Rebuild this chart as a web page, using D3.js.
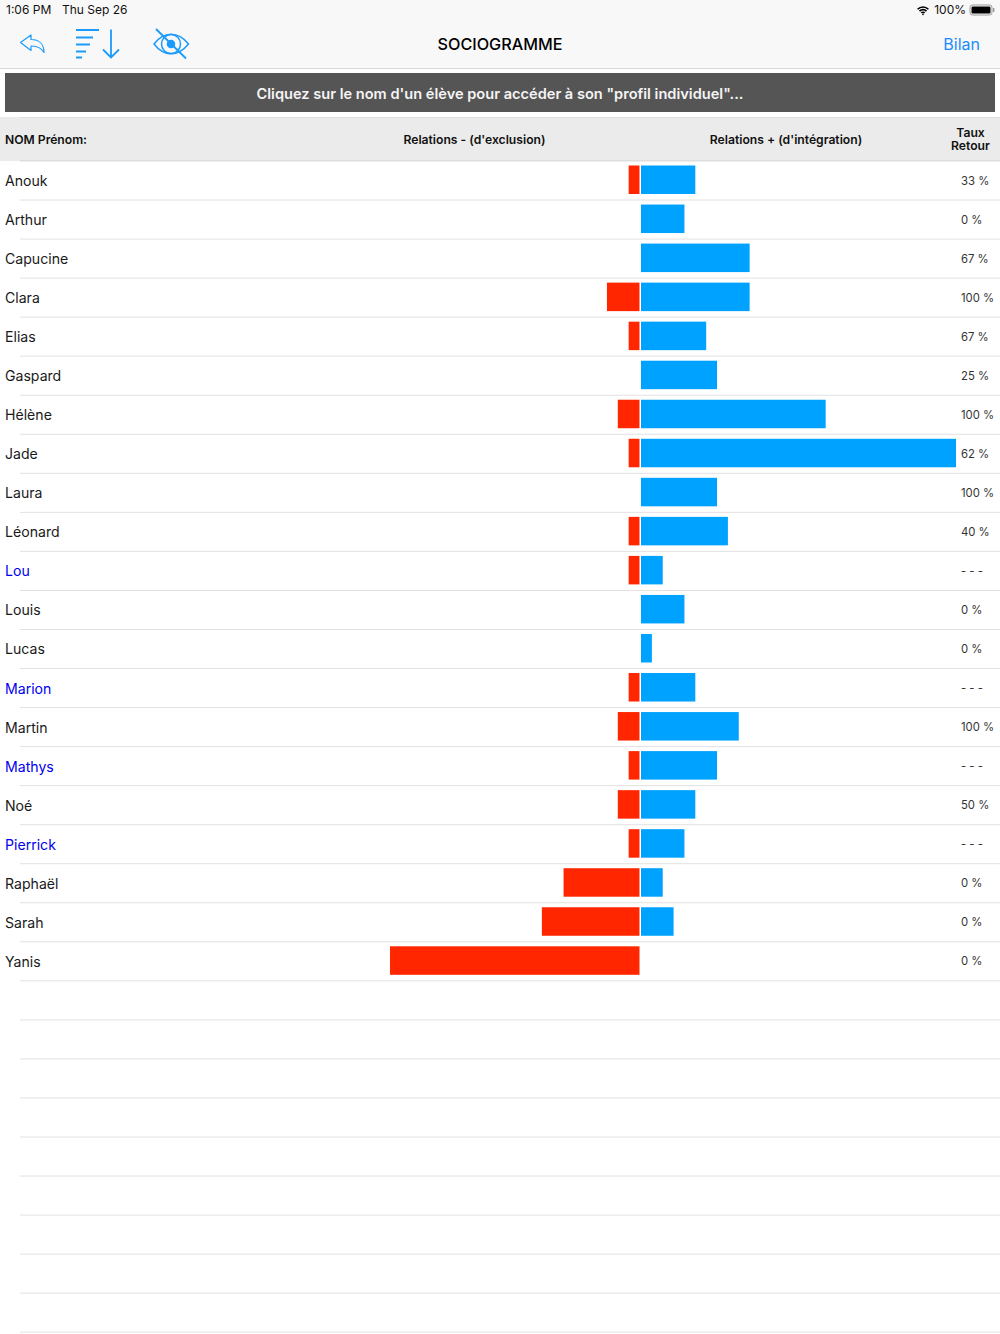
<!DOCTYPE html>
<html>
<head>
<meta charset="utf-8">
<script src="https://cdn.jsdelivr.net/npm/d3@7"></script>
<style>
  html, body { margin: 0; padding: 0; background: #fff; }
  svg { display: block; font-family: Inter, "Liberation Sans", sans-serif; }
</style>
</head>
<body>
<div id="chart"></div>
<script>
// values, in relation counts
var names = ["Anouk", "Arthur", "Capucine", "Clara", "Elias", "Gaspard", "Hélène", "Jade", "Laura", "Léonard", "Lou", "Louis", "Lucas", "Marion", "Martin", "Mathys", "Noé", "Pierrick", "Raphaël", "Sarah", "Yanis"];
var exclusion = [1, 0, 0, 3, 1, 0, 2, 1, 0, 1, 1, 0, 0, 1, 2, 1, 2, 1, 7, 9, 23];
var integration = [5, 4, 10, 10, 6, 7, 17, 29, 7, 8, 2, 4, 1, 5, 9, 7, 5, 4, 2, 3, 0];
var retour = ["33 %", "0 %", "67 %", "100 %", "67 %", "25 %", "100 %", "62 %", "100 %", "40 %", "- - -", "0 %", "0 %", "- - -", "100 %", "- - -", "50 %", "- - -", "0 %", "0 %", "0 %"];
var noReply = ["Lou", "Marion", "Mathys", "Pierrick"];
var rowCount = 30;

var width = 1000, height = 1334;
var blue = "#00a2ff", red = "#ff2600", tint = "#1a9bfc";

var svg = d3.select("#chart").append("svg")
  .attr("width", width)
  .attr("height", height);

var xPos = d3.scaleLinear().domain([0, 29]).range([641, 956]);
var xNeg = d3.scaleLinear().domain([0, 23]).range([639.5, 390]);
var y = d3.scaleBand().domain(d3.range(rowCount)).range([161, 161 + 39.04 * rowCount]);

// toolbar
svg.append("rect").attr("width", width).attr("height", 68).attr("fill", "#f8f8f8");
svg.append("rect").attr("y", 68).attr("width", width).attr("height", 1).attr("fill", "#d9d9d9");

svg.append("text").attr("x", 6).attr("y", 14).attr("font-size", 12).attr("fill", "#111").text("1:06 PM");
svg.append("text").attr("x", 62).attr("y", 14).attr("font-size", 12).attr("fill", "#111").text("Thu Sep 26");
svg.append("text").attr("x", 966).attr("y", 14).attr("font-size", 12).attr("fill", "#111").attr("text-anchor", "end").text("100%");

svg.append("text").attr("x", 500).attr("y", 50).attr("font-size", 16.2).attr("font-weight", 500)
  .attr("text-anchor", "middle").attr("fill", "#000").text("SOCIOGRAMME");
svg.append("text").attr("x", 980).attr("y", 50).attr("font-size", 16)
  .attr("text-anchor", "end").attr("fill", "#1a8cff").text("Bilan");

// battery
svg.append("rect").attr("x", 970).attr("y", 5).attr("width", 22).attr("height", 10).attr("rx", 2.5)
  .attr("fill", "none").attr("stroke", "#999");
svg.append("rect").attr("x", 971.5).attr("y", 6.5).attr("width", 19).attr("height", 7).attr("rx", 1.2).attr("fill", "#000");
svg.append("rect").attr("x", 993).attr("y", 8).attr("width", 1.4).attr("height", 4).attr("fill", "#999");

// wifi
var wifi = svg.append("g").attr("transform", "translate(923,14.5)").attr("fill", "none").attr("stroke", "#000").attr("stroke-width", 1.7);
[7.5, 4.8, 2.2].forEach(function (r) {
  wifi.append("path").attr("d", d3.arc()({ innerRadius: r, outerRadius: r, startAngle: -0.8, endAngle: 0.8 }));
});
wifi.append("circle").attr("r", 0.8).attr("fill", "#000").attr("stroke", "none");

// toolbar icons
var icons = svg.append("g").attr("fill", "none").attr("stroke", tint).attr("stroke-width", 1.5);
icons.append("path").attr("stroke-width", 1.2).attr("stroke-linejoin", "round")
  .attr("d", "M20.5 42.5 L31 35 L31 39.5 C39 39.5 44 44 44 52.5 C41 47.5 37 45.8 31 46 L31 50.5 Z");
icons.append("path").attr("stroke-width", 2)
  .attr("d", "M76 30 H99 M76 37.5 H93 M76 44.5 H90 M76 51.5 H86 M76 57.5 H82");
icons.append("path").attr("stroke-width", 1.8)
  .attr("d", "M111 29.5 V57.5 M103 49.5 L111 57.5 L119 49.5");
icons.append("path").attr("d", "M154 44 C164 31 178 31 188.5 44 C178 57 164 57 154 44 Z");
icons.append("circle").attr("cx", 171).attr("cy", 44).attr("r", 9.5);
icons.append("circle").attr("cx", 171).attr("cy", 44).attr("r", 3.5).attr("fill", tint);
icons.append("path").attr("d", "M156 29 L186 58.5").attr("stroke-width", 1.8);

// banner
svg.append("rect").attr("x", 5).attr("y", 73).attr("width", 990).attr("height", 39).attr("fill", "#555");
svg.append("text").attr("x", 500).attr("y", 98.5).attr("font-size", 14.6).attr("font-weight", 600)
  .attr("text-anchor", "middle").attr("fill", "#f4f4f4")
  .text("Cliquez sur le nom d'un élève pour accéder à son \"profil individuel\"...");

// column headers
svg.append("rect").attr("y", 117).attr("width", width).attr("height", 44).attr("fill", "#ebebeb");
svg.append("rect").attr("x", 20).attr("y", 117).attr("width", 980).attr("height", 1).attr("fill", "#dedede");
svg.append("rect").attr("x", 20).attr("y", 160).attr("width", 980).attr("height", 1.5).attr("fill", "#dedede");

var head = svg.append("g").attr("font-size", 12.15).attr("font-weight", 600).attr("fill", "#111");
head.append("text").attr("x", 5).attr("y", 143.5).text("NOM Prénom:");
head.append("text").attr("x", 474.5).attr("y", 143.5).attr("text-anchor", "middle").text("Relations - (d'exclusion)");
head.append("text").attr("x", 786).attr("y", 143.5).attr("text-anchor", "middle").text("Relations + (d'intégration)");
head.append("text").attr("x", 970.5).attr("y", 136.5).attr("text-anchor", "middle").text("Taux");
head.append("text").attr("x", 970.5).attr("y", 150).attr("text-anchor", "middle").text("Retour");

// row separators, the empty rows keep theirs
svg.append("g").selectAll("line")
  .data(d3.range(rowCount))
  .join("line")
  .attr("x1", 20)
  .attr("x2", width)
  .attr("y1", function (d) { return y(d) + y.bandwidth(); })
  .attr("y2", function (d) { return y(d) + y.bandwidth(); })
  .attr("stroke", "#e2e2e2");

var rows = svg.append("g").selectAll("g")
  .data(names)
  .join("g")
  .attr("transform", function (d, i) { return "translate(0," + y(i) + ")"; });

rows.append("text")
  .attr("x", 5)
  .attr("y", 25)
  .attr("font-size", 14.1)
  .attr("fill", function (d) { return noReply.indexOf(d) >= 0 ? "#0000ee" : "#1a1a1a"; })
  .text(function (d) { return d; });

rows.append("rect")
  .attr("x", function (d, i) { return xNeg(exclusion[i]); })
  .attr("y", 4.5)
  .attr("width", function (d, i) { return xNeg(0) - xNeg(exclusion[i]); })
  .attr("height", 28.5)
  .attr("fill", red);

rows.append("rect")
  .attr("x", xPos(0))
  .attr("y", 4.5)
  .attr("width", function (d, i) { return xPos(integration[i]) - xPos(0); })
  .attr("height", 28.5)
  .attr("fill", blue);

rows.append("text")
  .attr("x", 961)
  .attr("y", 23.5)
  .attr("font-size", 11.3)
  .attr("fill", "#333")
  .text(function (d, i) { return retour[i]; });
</script>
</body>
</html>
